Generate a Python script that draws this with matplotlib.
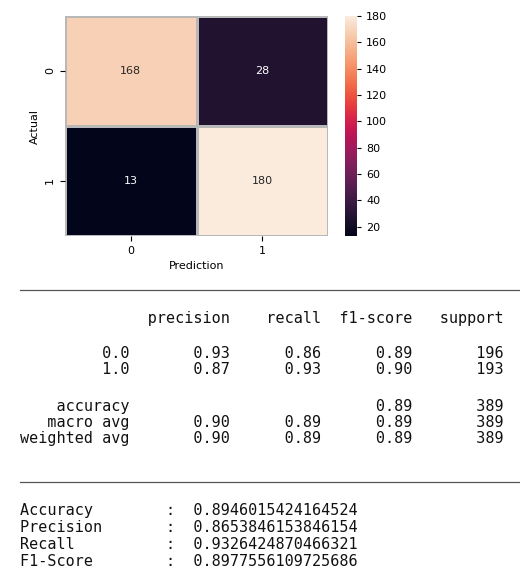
import matplotlib
matplotlib.use('Agg')
import matplotlib.pyplot as plt
import seaborn as sns
import numpy as np

# матрица ошибок
class_ticks = ['0', '1']
conf_matrix = [[168, 28],
               [13, 180]]

# classification report
report_labels = ['0.0', '1.0']
report_precision = [0.93, 0.87]
report_recall = [0.86, 0.93]
report_f1 = [0.89, 0.90]
report_support = [196, 193]
accuracy_f1 = 0.89
macro_avg = [0.90, 0.89, 0.89]
weighted_avg = [0.90, 0.89, 0.89]
total_support = 389

# итоговые метрики
metric_names = ['Accuracy', 'Precision', 'Recall', 'F1-Score']
metric_values = [0.8946015424164524, 0.8653846153846154,
                 0.9326424870466321, 0.8977556109725686]

W, H = 520, 568
fig = plt.figure(figsize=(W / 100, H / 100), dpi=100)

def px(x, y):  # пиксели -> доли фигуры
    return x / W, 1 - y / H

ax = fig.add_axes([65 / W, 1 - 236 / H, 263 / W, 220 / H])
cax = fig.add_axes([345 / W, 1 - 236 / H, 12 / W, 220 / H])
sns.heatmap(np.array(conf_matrix), annot=True, fmt='d', ax=ax, cbar_ax=cax,
            linewidths=0.8, linecolor='#b8b8b8',
            xticklabels=class_ticks, yticklabels=class_ticks,
            annot_kws={'fontsize': 8})
ax.set_xlabel('Prediction', fontsize=8)
ax.set_ylabel('Actual', fontsize=8)
ax.tick_params(labelsize=8)
plt.setp(ax.get_yticklabels(), rotation=90, va='center')
cax.tick_params(labelsize=8, length=3)
cax.set_yticks([20, 40, 60, 80, 100, 120, 140, 160, 180])

# разделители
fig.add_artist(plt.Line2D([20 / W, 1], [1 - 290 / H] * 2, color='#555555', lw=0.9))
fig.add_artist(plt.Line2D([20 / W, 1], [1 - 482 / H] * 2, color='#555555', lw=0.9))

mono = dict(family='DejaVu Sans Mono', fontsize=10.88, va='center', ha='left', color='#111111')

width = 12
lines = []
lines.append((318, ' ' * width + ' ' + ''.join(' {:>9}'.format(h) for h in
                                                ['precision', 'recall', 'f1-score', 'support'])))
rows_y = [353, 370]
for i, lab in enumerate(report_labels):
    s = '{:>{w}s} '.format(lab, w=width)
    s += ' {:>9.2f} {:>9.2f} {:>9.2f} {:>9}'.format(report_precision[i], report_recall[i],
                                                    report_f1[i], report_support[i])
    lines.append((rows_y[i], s))
lines.append((406, '{:>{w}s} '.format('accuracy', w=width) + ' ' * 20
              + ' {:>9.2f} {:>9}'.format(accuracy_f1, total_support)))
lines.append((423, '{:>{w}s} '.format('macro avg', w=width)
              + ' {:>9.2f} {:>9.2f} {:>9.2f} {:>9}'.format(*macro_avg, total_support)))
lines.append((439, '{:>{w}s} '.format('weighted avg', w=width)
              + ' {:>9.2f} {:>9.2f} {:>9.2f} {:>9}'.format(*weighted_avg, total_support)))

for y, s in lines:
    fig.text(*px(20, y), s, **mono)

for i, (name, val) in enumerate(zip(metric_names, metric_values)):
    fig.text(*px(20, 510 + i * 17.3), '{:<16}:  {}'.format(name, val), **mono)

fig.savefig('out.png', dpi=100)
